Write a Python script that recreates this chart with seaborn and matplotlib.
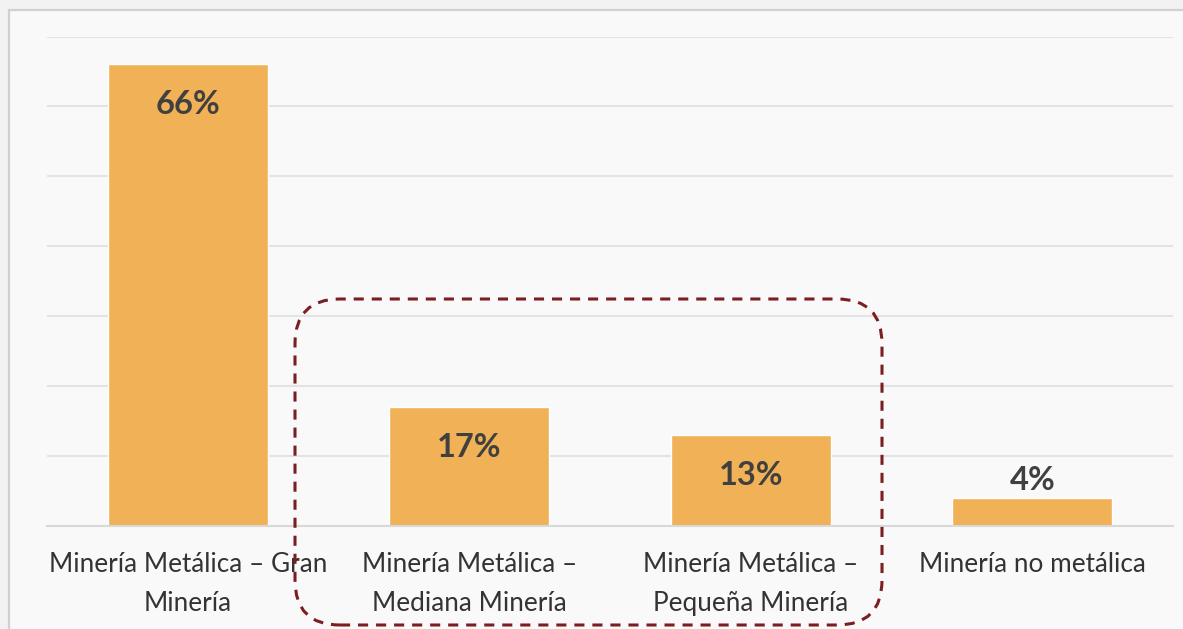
import matplotlib
matplotlib.use("Agg")
import matplotlib.pyplot as plt
import seaborn as sns
from matplotlib.patches import Rectangle, FancyBboxPatch
from matplotlib.transforms import IdentityTransform

# data
categories = ["Minería Metálica – Gran\nMinería",
              "Minería Metálica –\nMediana Minería",
              "Minería Metálica –\nPequeña Minería",
              "Minería no metálica"]
values = [66, 17, 13, 4]
labels = ["66%", "17%", "13%", "4%"]

bar_color = "#F0B157"
text_color = "#404040"

sns.set_style("white")
plt.rcParams["font.family"] = ["Lato", "DejaVu Sans"]

fig = plt.figure(figsize=(11.83, 6.29), dpi=100)
fig.patch.set_facecolor("#f2f2f2")

# chart panel with thin grey border
fig.patches.append(Rectangle((9 / 1183, -0.1), 1.2, (629 - 10) / 629 + 0.1,
                             transform=fig.transFigure, facecolor="#f9f9f9",
                             edgecolor="#d0d0d0", lw=1.6, zorder=-5))

ax = fig.add_axes([47 / 1183, (629 - 526) / 629, (1173 - 47) / 1183, (526 - 36.5) / 629])
ax.set_facecolor("none")

sns.barplot(x=categories, y=values, color=bar_color, width=0.57,
            saturation=1, ax=ax, zorder=2)

ax.set_ylim(0, 70)
ax.set_xlim(-0.5, 3.5)
ax.set_yticks(range(0, 71, 10))
ax.yaxis.grid(True, color="#e3e3e3", lw=1.5, zorder=0)
ax.set_axisbelow(True)
ax.tick_params(axis="y", left=False, labelleft=False)
ax.tick_params(axis="x", which="major", length=0, pad=19,
               labelsize=18.8, labelcolor="#333333")
for lbl in ax.get_xticklabels():
    lbl.set_linespacing(1.68)
ax.set_xticks([-0.5, 0.5, 1.5, 2.5, 3.5], minor=True)
ax.tick_params(axis="x", which="minor", length=7, width=1.5, color="#d9d9d9")

for s in ["top", "right", "left"]:
    ax.spines[s].set_visible(False)
ax.spines["bottom"].set_color("#d9d9d9")
ax.spines["bottom"].set_linewidth(1.5)
ax.set_xlabel("")
ax.set_ylabel("")

# value labels
for i, (v, t) in enumerate(zip(values, labels)):
    if v >= 10:
        ax.annotate(t, (i, v), xytext=(0, -40), textcoords="offset pixels",
                    ha="center", va="center", fontsize=23.5, fontweight="bold",
                    color=text_color)
    else:
        ax.annotate(t, (i, v), xytext=(0, 18), textcoords="offset pixels",
                    ha="center", va="center", fontsize=23.5, fontweight="bold",
                    color=text_color)

# dashed highlight around the two middle categories
box = FancyBboxPatch((295, 629 - 625), 882 - 295, 625 - 299,
                     boxstyle="round,pad=0,rounding_size=45",
                     transform=IdentityTransform(), fill=False,
                     edgecolor="#7b1e22", lw=2.2, linestyle=(0, (3.3, 2.6)),
                     zorder=5, clip_on=False)
fig.patches.append(box)

fig.savefig("out.png", dpi=100, facecolor=fig.get_facecolor())
